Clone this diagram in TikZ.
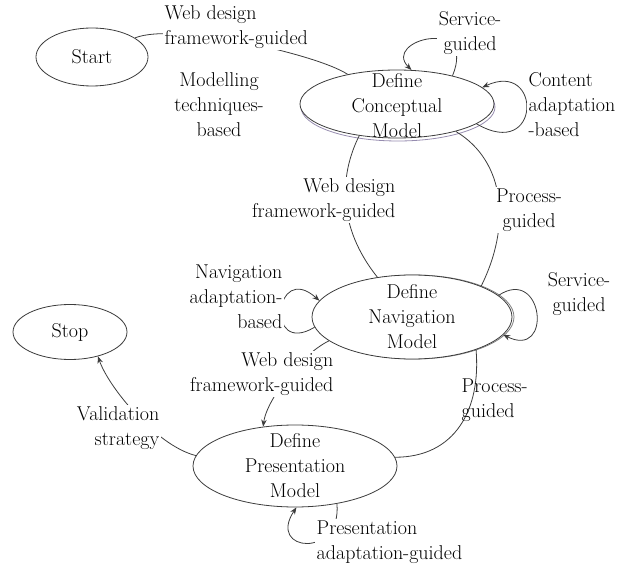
\documentclass[tikz,border=0pt]{standalone}
\usepackage{fontspec}
\usetikzlibrary{shapes.geometric,arrows.meta}
\definecolor{linegray}{RGB}{60,60,60}
\definecolor{shadowc}{RGB}{150,140,175}
\begin{document}
\begin{tikzpicture}[x=1pt,y=-1pt,
  every node/.style={font=\fontsize{20}{25}\selectfont, text=black},
  stage/.style={ellipse, draw=linegray, line width=0.8pt, fill=white, inner sep=0pt},
  shade/.style={ellipse, draw=shadowc, line width=0.8pt, inner sep=0pt},
  conn/.style={draw=linegray, line width=0.8pt},
  conarr/.style={conn, -{Stealth[length=7pt,width=5.5pt]}},
  lbl/.style={fill=white, inner sep=1.5pt},
  nlbl/.style={inner sep=1.5pt}]
\path[use as bounding box] (0,0) rectangle (632,569);

% stages
\node[stage, minimum width=112pt, minimum height=58pt, label={center:Start}] (start) at (92,57) {};
\node[stage, minimum width=114pt, minimum height=55pt, label={center:Stop}] (stop) at (70,332) {};
\node[shade, minimum width=194pt, minimum height=68pt] (cmshadow) at (398,107) {};
\node[stage, minimum width=194pt, minimum height=68pt,
      label={[align=center,yshift=-2pt]center:Define\\Conceptual\\Model}] (cm) at (397,104) {};
\node[shade, draw=gray, minimum width=200pt, minimum height=84pt] (navshadow) at (414,317) {};
\node[stage, minimum width=200pt, minimum height=84pt,
      label={[align=center]center:Define\\Navigation\\Model}] (nav) at (412,317) {};
\node[stage, minimum width=204pt, minimum height=82pt,
      label={[align=center]center:Define\\Presentation\\Model}] (pres) at (295,466) {};

% connectors
\draw[conn] (start.24) .. controls +(40,-16) and +(-30,-20) .. (cm.149);
\draw[conarr] (cm.27) .. controls +(25,-60) and +(-30,-30) .. (cm.67);
\draw[conarr] (cm.-14) .. controls +(65,38) and +(60,-28) .. (cm.11);
\draw[conn] (cm.-140) .. controls +(-20,40) and +(-40,-50) .. (nav.131);
\draw[conn] (cm.-25) .. controls +(50,30) and +(30,-60) .. (nav.24);
\draw[conarr] (nav.14) .. controls +(45,-30) and +(50,25) .. (nav.-11);
\draw[conarr] (nav.-174) .. controls +(-50,30) and +(-45,-40) .. (nav.170);
\draw[conarr] (nav.-164) .. controls +(-30,15) and +(3,-25) .. (pres.129);
\draw[conn] (nav.-27) .. controls +(5,60) and +(60,0) .. (pres.5);
\draw[conarr] (pres.-42) .. controls +(5,55) and +(-30,45) .. (pres.-88);
\draw[conarr] (pres.174) .. controls +(-40,-10) and +(10,30) .. (stop.-41);

% labels
\node[lbl, align=left, anchor=west] (l1) at (163,27) {Web design\\framework-guided};
\node[nlbl, align=center] (l2) at (219,105) {Modelling\\techniques-\\based};
\node[lbl, align=center] (l3) at (470,33) {Service-\\guided};
\node[lbl, align=left, anchor=west] (l4) at (527,105) {Content\\adaptation\\-based};
\node[lbl, align=right, anchor=east] (l5) at (397,200) {Web design\\framework-guided};
\node[lbl, align=center] (l6) at (529,210) {Process-\\guided};
\node[lbl, align=center] (l7) at (579,294) {Service-\\guided};
\node[lbl, align=right, anchor=east] (l8) at (284,297) {Navigation\\adaptation-\\based};
\node[lbl, align=right, anchor=east] (l9) at (335,374) {Web design\\framework-guided};
\node[nlbl, align=left, anchor=west] (l10) at (460,400) {Process-\\guided};
\node[lbl, align=left, anchor=west] (l11) at (315,542) {Presentation\\adaptation-guided};
\node[lbl, align=right, anchor=east] (l12) at (161,428) {Validation\\strategy};
\end{tikzpicture}
\end{document}
